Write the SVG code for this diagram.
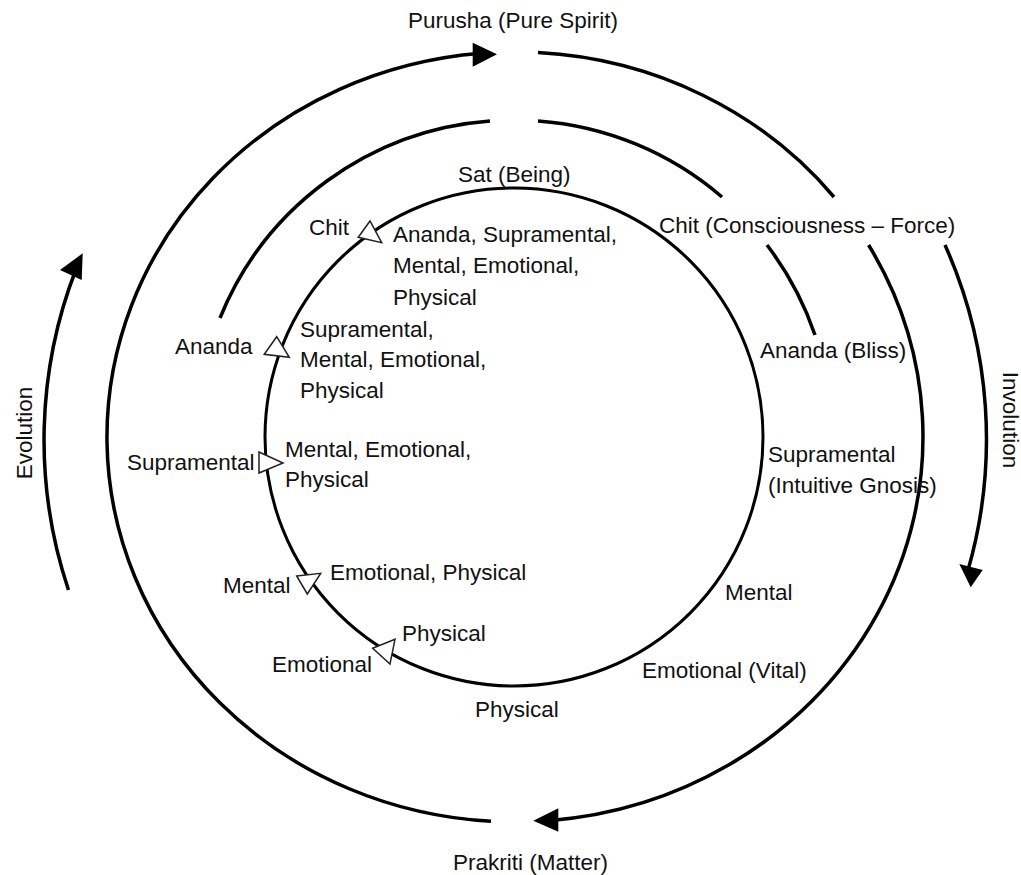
<svg xmlns="http://www.w3.org/2000/svg" width="1021" height="875" viewBox="0 0 1021 875">
<style>
.ln{fill:none;stroke:#000;stroke-width:3.5}
.in{fill:none;stroke:#000;stroke-width:3}
.hd{fill:#000;stroke:none}
.tri{fill:#fff;stroke:#222;stroke-width:1.5;stroke-linejoin:miter}
text{font-family:"Liberation Sans",Arial,sans-serif;font-size:22.5px;fill:#111}
</style>
<rect width="1021" height="875" fill="#fff"/>
<g id="connectors">
<path class="ln" d="M491,821.3 A408,385 0 0,1 481,53.3"/>
<polygon class="hd" points="497,54.3 472.7,42.7 472.7,66.7"/>
<path class="ln" d="M538,52.6 A408,385 0 0,1 834,197"/>
<path class="ln" d="M868.6,245 A408,385 0 0,1 549,820.7"/>
<polygon class="hd" points="533.3,820.7 558.3,808.3 558.3,831.7"/>
<path class="ln" d="M220,318 A317,317 0 0,1 490,121"/>
<path class="ln" d="M538,121 A317,317 0 0,1 722,197"/>
<path class="ln" d="M767,245 A317,317 0 0,1 815,335"/>
<path class="ln" d="M68.5,590 A472,472 0 0,1 76.5,268"/>
<polygon class="hd" points="82.7,253.3 60,270 81.7,280"/>
<path class="ln" d="M945,245 A475,475 0 0,1 967.5,572"/>
<polygon class="hd" points="970.7,587.3 959.3,564 982.7,570"/>
</g>
<g id="inner-circle">
<circle class="in" cx="514" cy="437" r="249"/>
<polygon class="tri" points="358.3,237.3 370,221 381.7,242.7"/>
<polygon class="tri" points="264.3,354.3 276.7,336.7 289.3,357.3"/>
<polygon class="tri" points="259,452 283,463 259,473"/>
<polygon class="tri" points="296.7,576 320.7,573.3 307.3,594"/>
<polygon class="tri" points="372.7,648.3 395,639.3 390,664"/>
</g>
<g id="purusha"><text x="408" y="28">Purusha (Pure Spirit)</text></g>
<g id="prakriti"><text x="453" y="870">Prakriti (Matter)</text></g>
<g id="evolution"><text transform="translate(32,433) rotate(-90)" text-anchor="middle">Evolution</text></g>
<g id="involution"><text transform="translate(1003,420) rotate(90)" text-anchor="middle">Involution</text></g>
<g id="sat"><text x="458" y="182">Sat (Being)</text></g>
<g id="chit-right"><text x="659" y="233">Chit (Consciousness – Force)</text></g>
<g id="ananda-right"><text x="760" y="358">Ananda (Bliss)</text></g>
<g id="supramental-right"><text x="768" y="462">Supramental</text><text x="768" y="493">(Intuitive Gnosis)</text></g>
<g id="mental-right"><text x="725" y="600">Mental</text></g>
<g id="emotional-right"><text x="642" y="678">Emotional (Vital)</text></g>
<g id="physical-bottom"><text x="475" y="717">Physical</text></g>
<g id="chit-left"><text x="309" y="235">Chit</text></g>
<g id="chit-contents"><text x="393" y="242">Ananda, Supramental,</text><text x="393" y="273">Mental, Emotional,</text><text x="393" y="305">Physical</text></g>
<g id="ananda-left"><text x="175" y="354">Ananda</text></g>
<g id="ananda-contents"><text x="300" y="337">Supramental,</text><text x="300" y="367">Mental, Emotional,</text><text x="300" y="398">Physical</text></g>
<g id="supramental-left"><text x="127" y="470">Supramental</text></g>
<g id="supramental-contents"><text x="285" y="457">Mental, Emotional,</text><text x="285" y="487">Physical</text></g>
<g id="mental-left"><text x="223" y="593">Mental</text></g>
<g id="mental-contents"><text x="330" y="580">Emotional, Physical</text></g>
<g id="emotional-left"><text x="272" y="672">Emotional</text></g>
<g id="emotional-contents"><text x="402" y="641">Physical</text></g>
</svg>
